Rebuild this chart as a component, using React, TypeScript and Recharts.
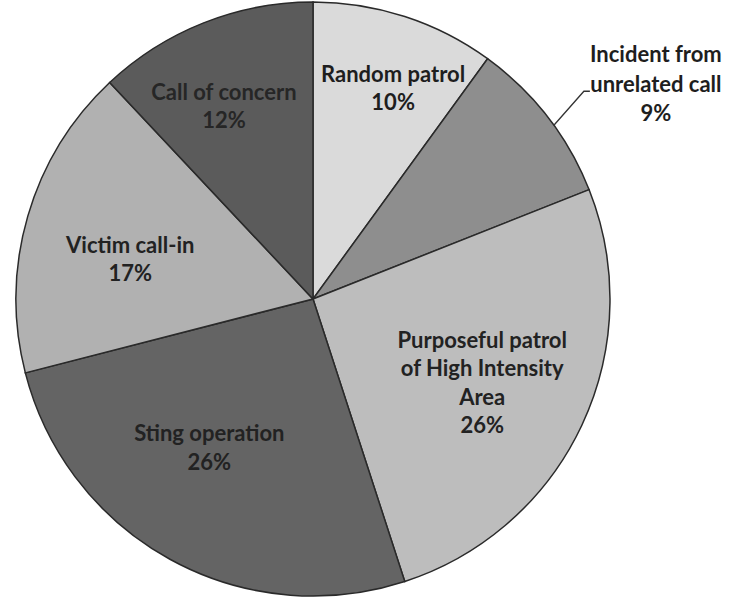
import { Cell, Pie, PieChart } from "recharts";

const categories = [
  "Random patrol",
  "Incident from unrelated call",
  "Purposeful patrol of High Intensity Area",
  "Sting operation",
  "Victim call-in",
  "Call of concern",
];
const shares = [10, 9, 26, 26, 17, 12];
const labelLines = [
  ["Random patrol"],
  ["Incident from", "unrelated call"],
  ["Purposeful patrol", "of High Intensity", "Area"],
  ["Sting operation"],
  ["Victim call-in"],
  ["Call of concern"],
];

const data = categories.map((name, i) => ({ name, value: shares[i], lines: labelLines[i] }));

const FILLS = ["#dadada", "#8e8e8e", "#bdbdbd", "#646464", "#b1b1b1", "#5b5b5b"];
const TEXT = ["#1e1e1e", "#1e1e1e", "#222", "#222", "#222", "#262626"];
// radius factor and angle nudge (deg, clockwise) for the inside labels
const PLACE: Record<number, [number, number]> = {
  0: [0.76, 2.8],
  2: [0.635, 1],
  3: [0.61, 6.1],
  4: [0.63, -3.8],
  5: [0.715, -3.2],
};
const FONT = "Lato, 'Open Sans', sans-serif";
const FS = 22;
const LH = 28.5;
const RAD = Math.PI / 180;

function renderLabel(props: any) {
  const { cx, cy, midAngle, outerRadius, index, payload, value } = props;
  const lines: string[] = [...(payload.lines ?? data[index].lines), `${value}%`];
  const theta = 90 - midAngle; // clockwise from 12 o'clock

  if (index === 1) {
    const sx = cx + outerRadius * Math.sin((theta + 2) * RAD);
    const sy = cy - outerRadius * Math.cos((theta + 2) * RAD);
    const ex = sx + 30;
    const ey = sy - 34;
    const tx = ex + 72;
    return (
      <g>
        <polyline
          points={`${sx},${sy} ${ex},${ey} ${ex + 6},${ey}`}
          fill="none"
          stroke="#333"
          strokeWidth={1.3}
        />
        <text textAnchor="middle" fontFamily={FONT} fontWeight={700} fontSize={FS} fill={TEXT[index]}>
          {lines.map((l, i) => (
            <tspan key={i} x={tx} y={ey - 29 + i * 29.5}>
              {l}
            </tspan>
          ))}
        </text>
      </g>
    );
  }

  const [f, nudge] = PLACE[index];
  const t = (theta + nudge) * RAD;
  const x = cx + outerRadius * f * Math.sin(t);
  const y = cy - outerRadius * f * Math.cos(t);
  const top = y - ((lines.length - 1) * LH) / 2 + 8;
  return (
    <text textAnchor="middle" fontFamily={FONT} fontWeight={700} fontSize={FS} fill={TEXT[index]}>
      {lines.map((l, i) => (
        <tspan key={i} x={x} y={top + i * LH}>
          {l}
        </tspan>
      ))}
    </text>
  );
}

export default function App() {
  return (
    <div style={{ position: "absolute", left: 0, top: 0, width: 731, height: 602, background: "#fff" }}>
      <PieChart width={731} height={602} margin={{ top: 0, right: 0, bottom: 0, left: 0 }}>
        <Pie
          data={data}
          dataKey="value"
          nameKey="name"
          cx={313}
          cy={299}
          outerRadius={297}
          startAngle={90}
          endAngle={-270}
          stroke="#2a2a2a"
          strokeWidth={1.5}
          label={renderLabel}
          labelLine={false}
          isAnimationActive={false}
        >
          {data.map((d, i) => (
            <Cell key={d.name} fill={FILLS[i]} />
          ))}
        </Pie>
      </PieChart>
    </div>
  );
}
